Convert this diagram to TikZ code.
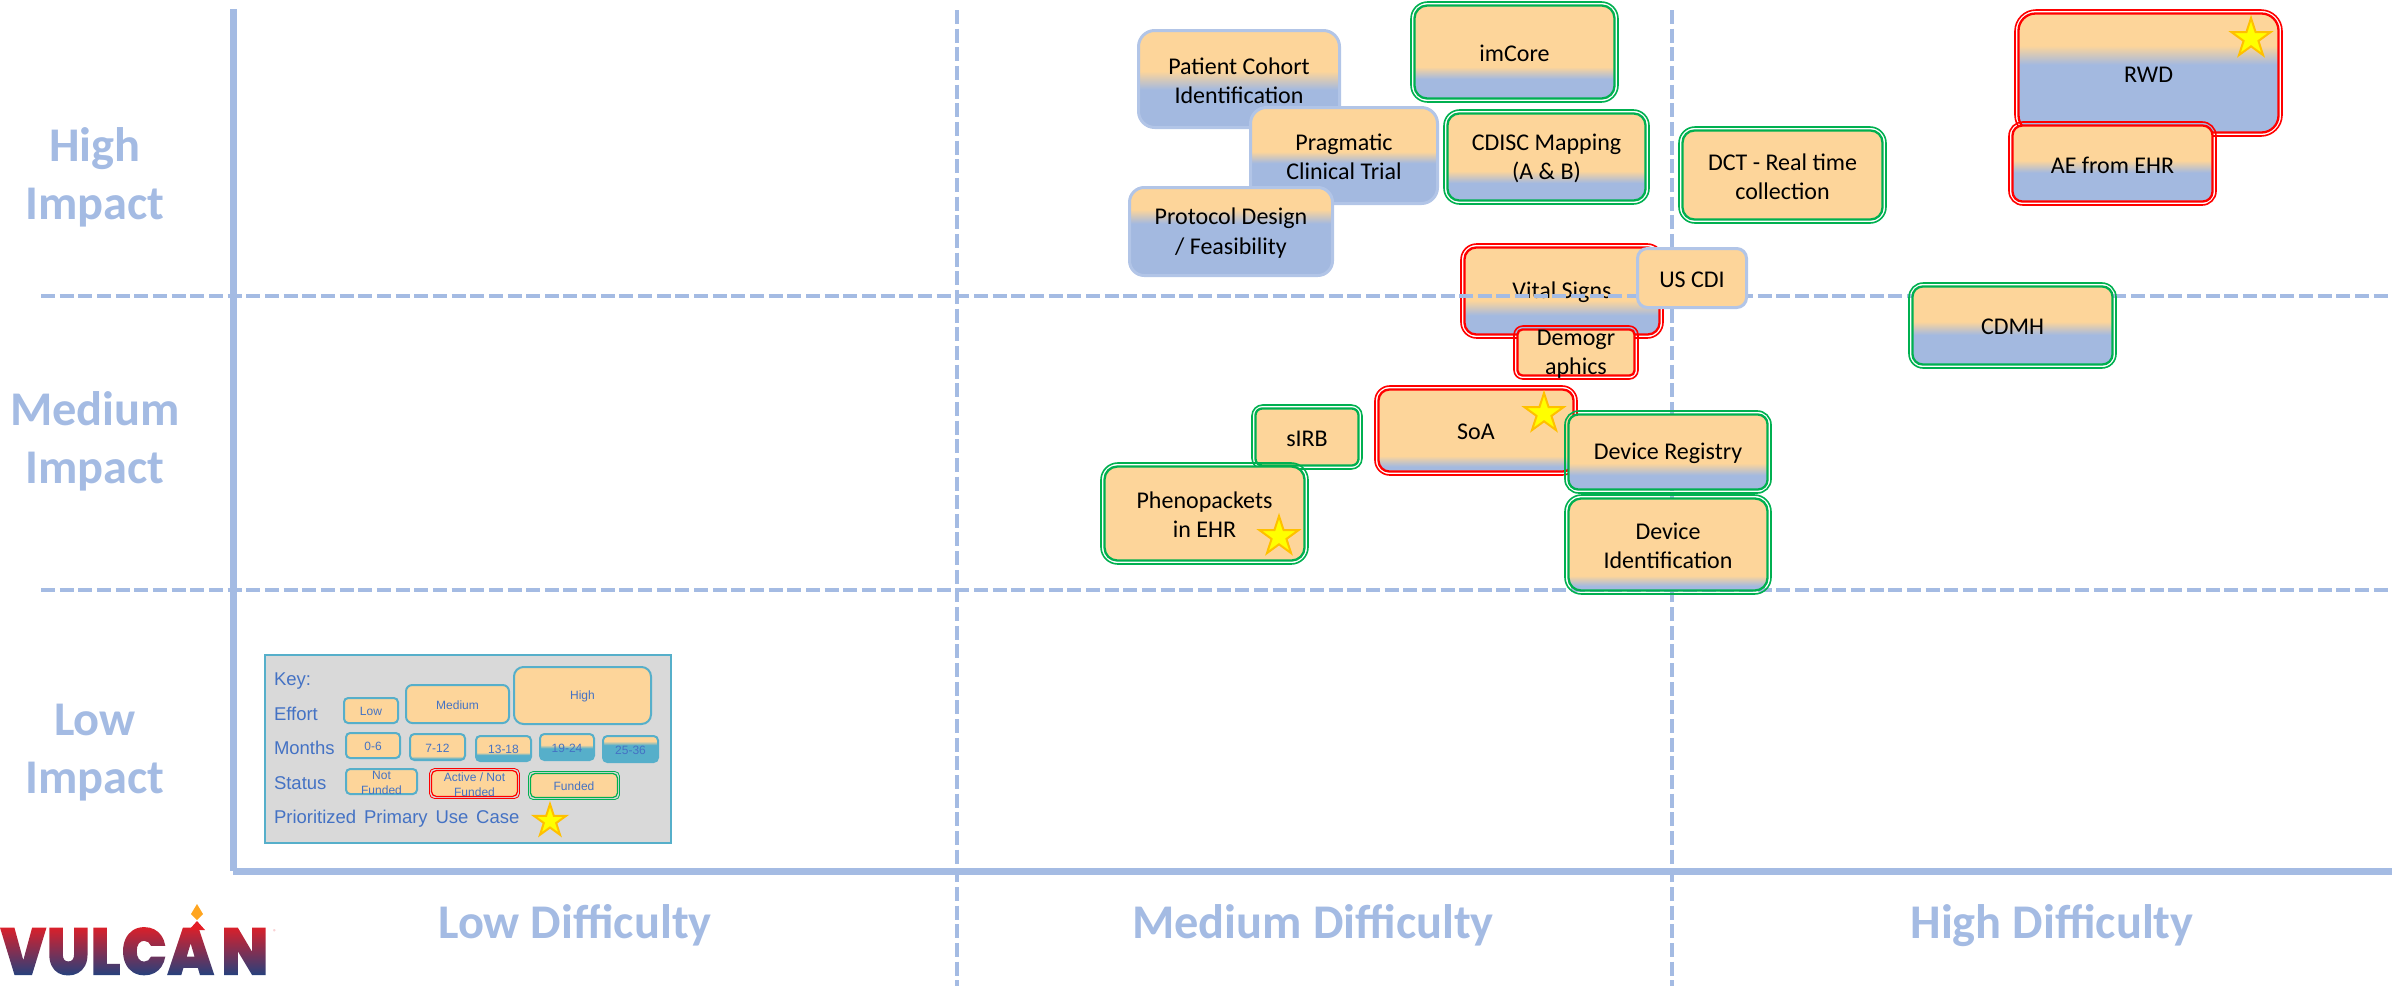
\documentclass[tikz,border=0pt]{standalone}
\usepackage{fontspec}
\usetikzlibrary{shapes.geometric}
\setmainfont{Carlito}
\newfontfamily\keyfont{Liberation Sans}
\newfontfamily\logofont{Poppins Black}[FakeStretch=0.91]
\definecolor{axisblue}{HTML}{A4BBE3}
\definecolor{planorange}{HTML}{FDD59A}
\definecolor{planblue}{HTML}{A3B9E0}
\definecolor{keyblue}{HTML}{56AFCA}
\definecolor{keytext}{HTML}{4472C4}
\definecolor{keygrey}{HTML}{D9D9D9}
\definecolor{statusred}{HTML}{FF0000}
\definecolor{statusgreen}{HTML}{00B050}
\definecolor{starline}{HTML}{FFC000}
\definecolor{starfill}{HTML}{FFFF00}
\definecolor{logored}{HTML}{E31E26}
\definecolor{logonavy}{HTML}{1F4280}
\definecolor{flame}{HTML}{FFA51F}
\newcommand{\defshade}[4]{%
  \pgfmathsetmacro\shA{75-50*#3}\pgfmathsetmacro\shB{75-50*#2}%
  \edef\shTmp{\noexpand\pgfdeclareverticalshading{#1}{100bp}{color(0bp)=(#4); color(\shA bp)=(#4); color(\shB bp)=(planorange); color(100bp)=(planorange)}}%
  \shTmp}
\defshade{sPatient}{0.42}{0.61}{planblue}
\defshade{sPragmatic}{0.46}{0.58}{planblue}
\defshade{sProtocol}{0.25}{0.41}{planblue}
\defshade{sImcore}{0.66}{0.79}{planblue}
\defshade{sCdisc}{0.66}{0.80}{planblue}
\defshade{sVital}{0.61}{0.78}{planblue}
\defshade{sSoa}{0.81}{0.94}{planblue}
\defshade{sRegistry}{0.65}{0.81}{planblue}
\defshade{sIdent}{0.84}{0.95}{planblue}
\defshade{sRwd}{0.27}{0.43}{planblue}
\defshade{sAe}{0.46}{0.62}{planblue}
\defshade{sCdmh}{0.45}{0.62}{planblue}
\defshade{kSeven}{0.85}{0.95}{keyblue}
\defshade{kThirteen}{0.66}{0.76}{keyblue}
\defshade{kNineteen}{0.42}{0.55}{keyblue}
\defshade{kTwentyfive}{0.20}{0.35}{keyblue}
\tikzset{
  x=0.5pt,y=-0.5pt,
  boxshape/.style={inner sep=0pt,outer sep=0pt},
  usetext/.style={inner sep=0pt,outer sep=0pt,align=center,text=black,font=\fontsize{12}{14.6}\selectfont,yshift=-0.75pt},
  keytextstyle/.style={inner sep=0pt,outer sep=0pt,align=center,text=keytext,font=\keyfont\fontsize{6}{7.5}\selectfont,yshift=-0.5pt},
  keylabel/.style={inner sep=0pt,outer sep=0pt,anchor=base west,text=keytext,font=\keyfont\fontsize{9.25}{11}\selectfont},
  axislabel/.style={inner sep=0pt,outer sep=0pt,align=center,text=axisblue,font=\bfseries\fontsize{24.2}{29}\selectfont},
  axisline/.style={draw=axisblue,line width=3.5pt},
  gridline/.style={draw=axisblue,line width=2pt,dash pattern=on 7pt off 2.33pt},
  flatfill/.style={fill=planorange},
  staricon/.style={star,star points=5,star point ratio=2.618,draw=starline,fill=starfill,line width=1pt,inner sep=0pt,outer sep=0pt},
}
\newcommand{\plainbox}[7]{%
  \pgfmathsetmacro\bw{#4-#2-3}\pgfmathsetmacro\bh{#5-#3-3}%
  \pgfmathsetmacro\br{0.5*0.167*min(\bw,\bh)}%
  \node[boxshape,draw=axisblue!85!white,line width=1.5pt,#6,minimum width=\bw*0.5pt,minimum height=\bh*0.5pt,rounded corners=\br pt,label={[usetext]center:{#7}}] (#1) at ({(#2+#4)/2},{(#3+#5)/2}) {};}
\newcommand{\statusbox}[8]{%
  \pgfmathsetmacro\bw{#4-#2-2}\pgfmathsetmacro\bh{#5-#3-2}%
  \pgfmathsetmacro\br{0.5*0.167*min(\bw,\bh)}%
  \pgfmathsetmacro\iw{#4-#2-9}\pgfmathsetmacro\ih{#5-#3-9}%
  \pgfmathsetmacro\ir{max(0.5*0.167*min(\bw,\bh)-2,1)}%
  \node[boxshape,draw=#6,line width=0.8pt,minimum width=\bw*0.5pt,minimum height=\bh*0.5pt,rounded corners=\br pt] (#1-frame) at ({(#2+#4)/2},{(#3+#5)/2}) {};
  \node[boxshape,draw=#6,line width=1.15pt,#7,minimum width=\iw*0.5pt,minimum height=\ih*0.5pt,rounded corners=\ir pt,label={[usetext]center:{#8}}] (#1) at ({(#2+#4)/2},{(#3+#5)/2}) {};}
\newcommand{\keyplain}[7]{%
  \pgfmathsetmacro\bw{#4-#2-2}\pgfmathsetmacro\bh{#5-#3-2}%
  \pgfmathsetmacro\br{0.5*0.167*min(\bw,\bh)}%
  \node[boxshape,draw=keyblue,line width=1pt,#6,minimum width=\bw*0.5pt,minimum height=\bh*0.5pt,rounded corners=\br pt,label={[keytextstyle]center:{#7}}] (#1) at ({(#2+#4)/2},{(#3+#5)/2}) {};}
\newcommand{\keystatus}[7]{%
  \pgfmathsetmacro\bw{#4-#2-1}\pgfmathsetmacro\bh{#5-#3-1}%
  \pgfmathsetmacro\br{0.5*0.167*min(\bw,\bh)}%
  \pgfmathsetmacro\iw{#4-#2-5}\pgfmathsetmacro\ih{#5-#3-5}%
  \node[boxshape,draw=#6,line width=0.4pt,minimum width=\bw*0.5pt,minimum height=\bh*0.5pt,rounded corners=\br pt] (#1-frame) at ({(#2+#4)/2},{(#3+#5)/2}) {};
  \node[boxshape,draw=#6,line width=0.6pt,fill=planorange,minimum width=\iw*0.5pt,minimum height=\ih*0.5pt,rounded corners=\br pt,label={[keytextstyle]center:{#7}}] (#1) at ({(#2+#4)/2},{(#3+#5)/2}) {};}
\begin{document}
\begin{tikzpicture}
\useasboundingbox (0,0) rectangle (2394,986);
% free ends of the axes and grid lines
\coordinate (axtop) at (233,9);
\coordinate (axbottom) at (233,871);
\coordinate (axleft) at (233,871);
\coordinate (axright) at (2392,871);
\coordinate (h1a) at (41,295.5);
\coordinate (h1b) at (2390,295.5);
\coordinate (h2a) at (41,590);
\coordinate (h2b) at (2390,590);
\coordinate (v1a) at (957,10);
\coordinate (v1b) at (957,986);
\coordinate (v2a) at (1672,10);
\coordinate (v2b) at (1672,986);
\draw[gridline] (v1a) -- (v1b);
\draw[gridline] (v2a) -- (v2b);
\draw[axisline] (axtop) -- (axbottom);
\draw[axisline] (axleft) -- (axright);
% axis labels
\node[axislabel] (highimpact) at (95,177) {High\\Impact};
\node[axislabel] (medimpact) at (95,441) {Medium\\Impact};
\node[axislabel] (lowimpact) at (95,753) {Low\\Impact};
\node[axislabel,anchor=base] (lowdiff) at (575,938) {Low Difficulty};
\node[axislabel,anchor=base] (meddiff) at (1313,938) {Medium Difficulty};
\node[axislabel,anchor=base] (highdiff) at (2052,938) {High Difficulty};
% plan boxes
\plainbox{patient}{1137}{29}{1341}{129}{shade,shading=sPatient}{Patient Cohort\\Identification}
\plainbox{pragmatic}{1249}{106}{1439}{205}{shade,shading=sPragmatic}{Pragmatic\\Clinical Trial}
\plainbox{protocol}{1128}{186}{1334}{277}{shade,shading=sProtocol}{Protocol Design\\/ Feasibility}
\statusbox{imcore}{1410}{1}{1619}{103}{statusgreen}{shade,shading=sImcore}{imCore}
\statusbox{cdisc}{1443}{109}{1650}{205}{statusgreen}{shade,shading=sCdisc}{CDISC Mapping\\(A \& B)}
\statusbox{dct}{1678}{126}{1887}{224}{statusgreen}{flatfill}{DCT - Real time\\collection}
\statusbox{vital}{1460}{243}{1664}{339}{statusred}{shade,shading=sVital}{Vital Signs}
\draw[gridline] (h1a) -- (h1b);
\draw[gridline] (h2a) -- (h2b);
\plainbox{uscdi}{1636}{247}{1748}{309}{flatfill}{US CDI}
\statusbox{demog}{1513}{325}{1639}{380}{statusred}{flatfill}{Demogr\\aphics}
\statusbox{soa}{1374}{385}{1578}{476}{statusred}{shade,shading=sSoa}{SoA}
\node[staricon,minimum size=20.5pt] (soastar) at (1544,413.5) {};
\statusbox{registry}{1564}{410}{1772}{494}{statusgreen}{shade,shading=sRegistry}{Device Registry}
\statusbox{ident}{1564}{494}{1772}{595}{statusgreen}{shade,shading=sIdent}{Device\\Identification}
\statusbox{sirb}{1251}{404}{1363}{470}{statusgreen}{flatfill}{sIRB}
\statusbox{pheno}{1100}{462}{1309}{565}{statusgreen}{flatfill}{Phenopackets\\in EHR}
\node[staricon,minimum size=20.5pt] (phenostar) at (1279,536.5) {};
\statusbox{rwd}{2014}{9}{2283}{137}{statusred}{shade,shading=sRwd}{RWD}
\node[staricon,minimum size=20.5pt] (rwdstar) at (2251,38.5) {};
\statusbox{ae}{2008}{121}{2217}{206}{statusred}{shade,shading=sAe}{AE from EHR}
\statusbox{cdmh}{1908}{282}{2117}{369}{statusgreen}{shade,shading=sCdmh}{CDMH}
% key
\node[inner sep=0pt,outer sep=0pt,draw=keyblue,fill=keygrey,line width=1pt,minimum width=203pt,minimum height=94pt] (keypanel) at (467.5,748.5) {};
\node[keylabel] (keyhead) at (274,685) {Key:};
\node[keylabel] (keyeffort) at (274,720) {Effort};
\node[keylabel] (keymonths) at (274,754) {Months};
\node[keylabel] (keystat) at (274,789) {Status};
\node[keylabel] (keyprim) at (274,823) {\spaceskip=3.9pt Prioritized Primary Use Case};
\node[staricon,minimum size=17pt] (keystar) at (550,821) {};
\keyplain{klow}{343}{697}{399}{724}{flatfill}{Low}
\keyplain{kmed}{405}{684}{510}{724}{flatfill}{Medium}
\keyplain{khigh}{513}{666}{652}{725}{flatfill}{High}
\keyplain{kzero}{345}{732}{401}{759}{flatfill}{0-6}
\keyplain{kseven}{409}{733}{466}{761}{shade,shading=kSeven}{7-12}
\keyplain{kthirteen}{475}{735}{532}{762}{shade,shading=kThirteen}{13-18}
\keyplain{knineteen}{539}{733}{595}{761}{shade,shading=kNineteen}{19-24}
\keyplain{ktwentyfive}{602}{735}{659}{763}{shade,shading=kTwentyfive}{25-36}
\keyplain{knot}{345}{768}{418}{795}{flatfill}{Not\\Funded}
\keystatus{kactive}{429}{768}{520}{799}{statusred}{Active / Not\\Funded}
\keystatus{kfunded}{528}{771}{620}{800}{statusgreen}{Funded}
% logo
\node[anchor=base west,inner sep=0pt,outer sep=0pt] (logo) at (0,975) {\logofont\fontsize{33.5}{36}\selectfont\special{pdf:code q 7 Tr}VULCA\kern3.5pt N\special{pdf:code 0 Tr}\llap{\tikz[baseline=0pt]\shade[top color=logored,bottom color=logonavy] (0pt,-1pt) rectangle (150pt,25pt);}\special{pdf:code Q}};
\fill[logored] (189,930) -- (197,921) -- (205,930) -- cycle;
\fill[flame] (197,904) -- (203,914) -- (197,920) -- (191,914) -- cycle;
\node[inner sep=0pt,text=logored!50!white,font=\fontsize{3.5}{4}\selectfont] (regmark) at (275,932) {®};
\end{tikzpicture}
\end{document}
